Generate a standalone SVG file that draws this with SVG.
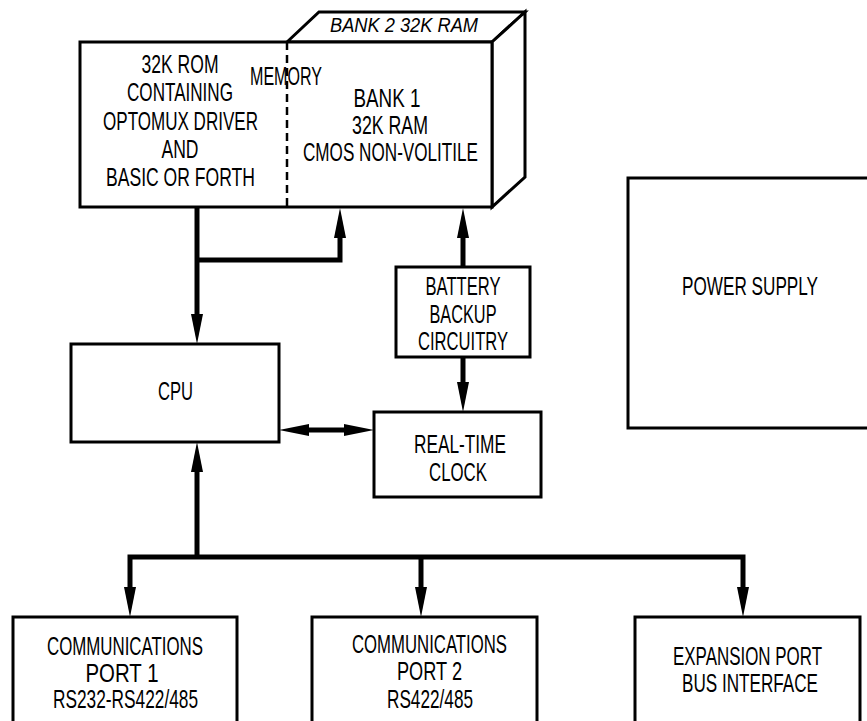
<svg xmlns="http://www.w3.org/2000/svg" width="867" height="721" viewBox="0 0 867 721">
<style>
.box{fill:#fff;stroke:#000;stroke-width:3;stroke-linejoin:miter}
.face{fill:#fff;stroke:#000;stroke-width:3;stroke-linejoin:miter}
.dash{fill:none;stroke:#000;stroke-width:2.5;stroke-dasharray:8 5}
.t{font-family:"Liberation Sans",Arial,sans-serif;font-size:25.5px;fill:#000;text-anchor:middle}
.it{font-style:italic;font-size:20px}
.w{fill:none;stroke:#000;stroke-width:5;stroke-linejoin:miter;stroke-linecap:butt}
</style>
<defs>
<marker id="ah" viewBox="0 0 30 12" refX="0" refY="6" markerWidth="30" markerHeight="12" markerUnits="userSpaceOnUse" orient="auto-start-reverse">
<path d="M0,0 L30,6 L0,12 z" fill="#000"/>
</marker>
</defs>

<g id="memory">
<polygon class="face" points="287,42 319,12 525,12 492,42"/>
<polygon class="face" points="492,42 525,12 525,177 492,207"/>
<rect class="box" x="80" y="42" width="412" height="165"/>
<line class="dash" x1="287" y1="42" x2="287" y2="207"/>
<text class="t it" x="404" y="32" textLength="148" lengthAdjust="spacingAndGlyphs">BANK 2 32K RAM</text>
<text class="t" x="180" y="73" textLength="77" lengthAdjust="spacingAndGlyphs">32K ROM</text>
<text class="t" x="180" y="101" textLength="106" lengthAdjust="spacingAndGlyphs">CONTAINING</text>
<text class="t" x="180.5" y="130" textLength="155" lengthAdjust="spacingAndGlyphs">OPTOMUX DRIVER</text>
<text class="t" x="180" y="158" textLength="37" lengthAdjust="spacingAndGlyphs">AND</text>
<text class="t" x="180.5" y="186" textLength="149" lengthAdjust="spacingAndGlyphs">BASIC OR FORTH</text>
<text class="t" x="286" y="85" textLength="72" lengthAdjust="spacingAndGlyphs">MEMORY</text>
<text class="t" x="387" y="107" textLength="67" lengthAdjust="spacingAndGlyphs">BANK 1</text>
<text class="t" x="390" y="134" textLength="76" lengthAdjust="spacingAndGlyphs">32K RAM</text>
<text class="t" x="390.5" y="161" textLength="175" lengthAdjust="spacingAndGlyphs">CMOS NON-VOLITILE</text>
</g>

<g id="cpu">
<rect class="box" x="71" y="344" width="208" height="98"/>
<text class="t" x="175.5" y="400" textLength="35" lengthAdjust="spacingAndGlyphs">CPU</text>
</g>

<g id="battery">
<rect class="box" x="396" y="267" width="134" height="90"/>
<text class="t" x="463" y="295" textLength="75" lengthAdjust="spacingAndGlyphs">BATTERY</text>
<text class="t" x="463" y="323" textLength="67" lengthAdjust="spacingAndGlyphs">BACKUP</text>
<text class="t" x="463" y="350" textLength="90" lengthAdjust="spacingAndGlyphs">CIRCUITRY</text>
</g>

<g id="rtc">
<rect class="box" x="374" y="412" width="167" height="85"/>
<text class="t" x="460" y="453" textLength="92" lengthAdjust="spacingAndGlyphs">REAL-TIME</text>
<text class="t" x="458" y="481" textLength="58" lengthAdjust="spacingAndGlyphs">CLOCK</text>
</g>

<g id="power">
<path class="box" d="M867,178 L628,178 L628,428 L867,428"/>
<text class="t" x="750" y="295" textLength="136" lengthAdjust="spacingAndGlyphs">POWER SUPPLY</text>
</g>

<g id="comm1">
<path class="box" d="M13,721 L13,617 L237,617 L237,721"/>
<text class="t" x="125" y="655" textLength="156" lengthAdjust="spacingAndGlyphs">COMMUNICATIONS</text>
<text class="t" x="122" y="682" textLength="73" lengthAdjust="spacingAndGlyphs">PORT 1</text>
<text class="t" x="125.5" y="708" textLength="145" lengthAdjust="spacingAndGlyphs">RS232-RS422/485</text>
</g>

<g id="comm2">
<path class="box" d="M312,721 L312,617 L537,617 L537,721"/>
<text class="t" x="429.5" y="653" textLength="155" lengthAdjust="spacingAndGlyphs">COMMUNICATIONS</text>
<text class="t" x="429.5" y="680" textLength="65" lengthAdjust="spacingAndGlyphs">PORT 2</text>
<text class="t" x="430" y="708" textLength="86" lengthAdjust="spacingAndGlyphs">RS422/485</text>
</g>

<g id="expansion">
<path class="box" d="M635,721 L635,617 L860,617 L860,721"/>
<text class="t" x="747.5" y="665" textLength="149" lengthAdjust="spacingAndGlyphs">EXPANSION PORT</text>
<text class="t" x="750" y="692" textLength="136" lengthAdjust="spacingAndGlyphs">BUS INTERFACE</text>
</g>

<g id="connectors">
<path class="w" d="M197,207 L197,314" marker-end="url(#ah)"/>
<path class="w" d="M197,260 L340,260 L340,238" marker-end="url(#ah)"/>
<path class="w" d="M463,267 L463,238" marker-end="url(#ah)"/>
<path class="w" d="M463,357 L463,382" marker-end="url(#ah)"/>
<path class="w" d="M309,430 L344,430" marker-start="url(#ah)" marker-end="url(#ah)"/>
<path class="w" d="M197,557 L197,472" marker-end="url(#ah)"/>
<path class="w" d="M130,587 L130,557 L743,557 L743,587" marker-start="url(#ah)" marker-end="url(#ah)"/>
<path class="w" d="M421,557 L421,587" marker-end="url(#ah)"/>
</g>
</svg>
